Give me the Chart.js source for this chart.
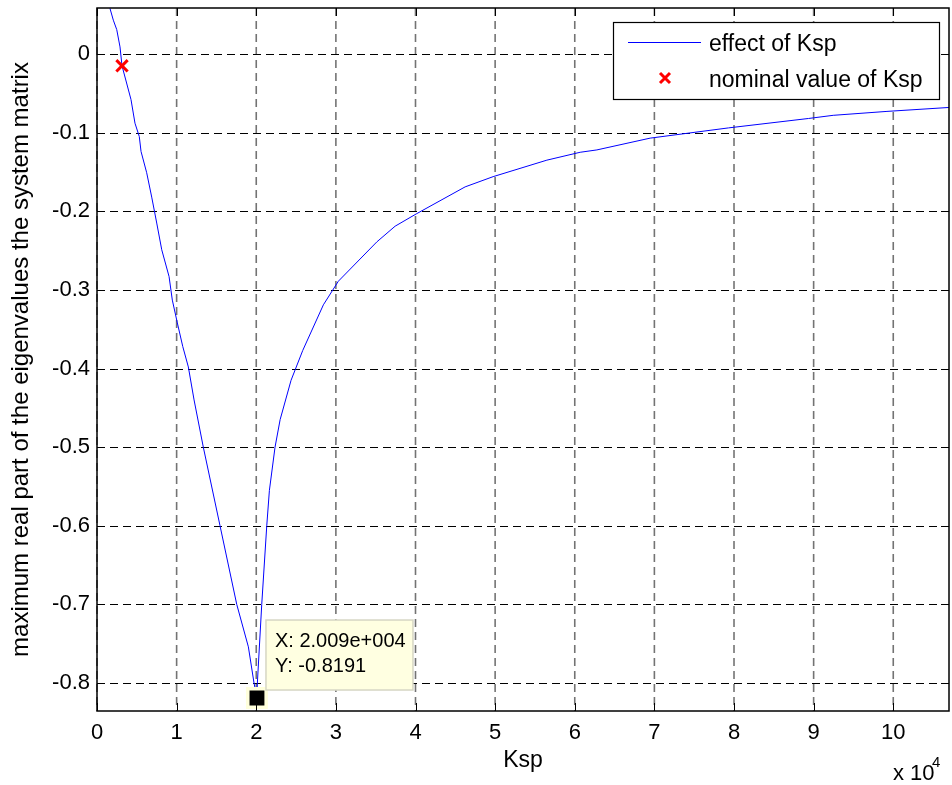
<!DOCTYPE html>
<html>
<head>
<meta charset="utf-8">
<script src="https://cdn.jsdelivr.net/npm/chart.js@4.4.1/dist/chart.umd.min.js"></script>
<style>
  html, body { margin: 0; padding: 0; background: #fff; }
  #wrap { width: 952px; height: 785px; }
</style>
</head>
<body>
<div id="wrap"><canvas id="chart" width="952" height="785"></canvas></div>
<script>
// Ksp sweep vs. max real part of the system eigenvalues
const kspValues = [1630, 2050, 2480, 2890, 3140, 4270, 4770, 5310, 5530, 6240, 6870, 7500, 8130,
  9050, 9460, 10090, 10770, 11470, 12190, 13350, 15450, 17550, 19010, 19720, 20090, 20140,
  20690, 21320, 21650, 22360, 23000, 24370, 25840, 28430, 30310, 35140, 37440, 40160, 46230,
  49750, 56500, 60680, 62780, 69470, 79310, 89360, 92460, 99210, 107000];
const maxRealPart = [0.058, 0.043, 0.031, 0.009, -0.015, -0.058, -0.088, -0.105, -0.124, -0.151,
  -0.182, -0.215, -0.249, -0.283, -0.313, -0.342, -0.372, -0.398, -0.440, -0.500, -0.600, -0.700,
  -0.754, -0.800, -0.8191, -0.800, -0.700, -0.600, -0.555, -0.500, -0.465, -0.415, -0.377, -0.319,
  -0.289, -0.239, -0.219, -0.203, -0.169, -0.156, -0.135, -0.125, -0.122, -0.107, -0.094, -0.082,
  -0.078, -0.073, -0.068];
const nominalKsp = [3140];
const nominalValue = [-0.015];
const tipKsp = [20090];
const tipValue = [-0.8191];
const xTicks = [0, 10000, 20000, 30000, 40000, 50000, 60000, 70000, 80000, 90000, 100000];
const yTicks = [-0.8, -0.7, -0.6, -0.5, -0.4, -0.3, -0.2, -0.1, 0];

const FONT = '"Liberation Sans", Arial, Helvetica, sans-serif';

const zip = (xs, ys) => xs.map((v, i) => ({ x: v, y: ys[i] }));

// no extra room for overflowing labels, the plot box is fixed
const fixBox = (size) => (s) => {
  if (s.isHorizontal()) s.height = size; else s.width = size;
  s.paddingTop = s.paddingBottom = s.paddingLeft = s.paddingRight = 0;
};

const matlabAxes = {
  id: 'matlabAxes',
  beforeDatasetsDraw(chart) {
    const { ctx, chartArea: a, scales: { x, y } } = chart;
    ctx.save();
    ctx.setLineDash([8, 5]);
    ctx.lineWidth = 1;
    ctx.strokeStyle = '#000';
    yTicks.forEach((v) => {
      const py = Math.round(y.getPixelForValue(v)) + 0.5;
      ctx.beginPath(); ctx.moveTo(a.left, py); ctx.lineTo(a.right, py); ctx.stroke();
    });
    ctx.strokeStyle = 'rgba(0,0,0,0.55)';
    ctx.lineWidth = 1.6;
    xTicks.forEach((v) => {
      const px = x.getPixelForValue(v);
      ctx.beginPath(); ctx.moveTo(px, a.top); ctx.lineTo(px, a.bottom); ctx.stroke();
    });
    ctx.restore();
  },
  afterDatasetsDraw(chart) {
    const { ctx, chartArea: a, scales: { x, y } } = chart;
    ctx.save();
    // box + inward ticks
    ctx.strokeStyle = '#000';
    ctx.lineWidth = 1.5;
    ctx.strokeRect(a.left, a.top, a.right - a.left, a.bottom - a.top);
    ctx.lineWidth = 1;
    const tl = 8;
    ctx.beginPath();
    xTicks.forEach((v) => {
      const px = Math.round(x.getPixelForValue(v)) + 0.5;
      ctx.moveTo(px, a.bottom); ctx.lineTo(px, a.bottom - tl);
      ctx.moveTo(px, a.top); ctx.lineTo(px, a.top + tl);
    });
    yTicks.forEach((v) => {
      const py = Math.round(y.getPixelForValue(v)) + 0.5;
      ctx.moveTo(a.left, py); ctx.lineTo(a.left + tl, py);
      ctx.moveTo(a.right, py); ctx.lineTo(a.right - tl, py);
    });
    ctx.stroke();

    // data tip
    const px = x.getPixelForValue(tipKsp[0]);
    const py = y.getPixelForValue(tipValue[0]);
    ctx.fillStyle = '#ffffe1';
    ctx.strokeStyle = '#d6d6c4';
    ctx.lineWidth = 1.5;
    ctx.fillRect(px + 9, py - 78, 147, 70);
    ctx.strokeRect(px + 9, py - 78, 147, 70);
    ctx.fillStyle = '#000';
    ctx.font = '20px ' + FONT;
    ctx.textAlign = 'left';
    ctx.textBaseline = 'alphabetic';
    ctx.fillText('X: 2.009e+004', px + 18, py - 51);
    ctx.fillText('Y: -0.8191', px + 18, py - 26);

    // legend
    const lx = 613, ly = 22, lw = 326, lh = 77;
    ctx.fillStyle = '#fff';
    ctx.fillRect(lx, ly, lw, lh);
    ctx.strokeStyle = '#000';
    ctx.lineWidth = 1.2;
    ctx.strokeRect(lx + 0.5, ly + 0.5, lw, lh);
    ctx.strokeStyle = '#0000ff';
    ctx.lineWidth = 1;
    ctx.beginPath(); ctx.moveTo(628, 42.5); ctx.lineTo(701, 42.5); ctx.stroke();
    ctx.strokeStyle = '#ff0000';
    ctx.lineWidth = 3;
    ctx.beginPath();
    ctx.moveTo(660, 73); ctx.lineTo(670, 83);
    ctx.moveTo(670, 73); ctx.lineTo(660, 83);
    ctx.stroke();
    ctx.fillStyle = '#000';
    ctx.font = '23px ' + FONT;
    ctx.fillText('effect of Ksp', 709, 51);
    ctx.fillText('nominal value of Ksp', 709, 87);

    // axis exponent
    ctx.font = '22px ' + FONT;
    ctx.fillText('x 10', 893, 780);
    ctx.font = '15px ' + FONT;
    ctx.fillText('4', 932, 767);
    ctx.restore();
  }
};

new Chart(document.getElementById('chart'), {
  type: 'scatter',
  data: {
    datasets: [
      {
        label: 'effect of Ksp',
        data: zip(kspValues, maxRealPart),
        showLine: true,
        borderColor: '#0000ff',
        borderWidth: 1,
        pointRadius: 0,
        tension: 0,
        order: 3,
      },
      {
        label: 'nominal value of Ksp',
        data: zip(nominalKsp, nominalValue),
        pointStyle: 'crossRot',
        pointRadius: 8,
        borderColor: '#ff0000',
        borderWidth: 3,
        order: 2,
      },
      {
        label: 'data tip',
        data: zip(tipKsp, tipValue),
        pointStyle: 'rect',
        pointRadius: 13,
        backgroundColor: '#000',
        borderColor: '#ffffdc',
        borderWidth: 3.5,
        order: 1,
      },
    ],
  },
  options: {
    responsive: false,
    animation: false,
    events: [],
    layout: { autoPadding: false, padding: { top: 8, right: 3, left: 0, bottom: 0 } },
    plugins: { legend: { display: false }, tooltip: { enabled: false } },
    scales: {
      x: {
        type: 'linear',
        min: 0,
        max: 107000,
        afterBuildTicks: (s) => { s.ticks = xTicks.map((v) => ({ value: v })); },
        afterFit: fixBox(74),
        ticks: {
          callback: (v) => String(v / 10000),
          font: { family: FONT, size: 22 },
          color: '#000',
          padding: 9,
          maxRotation: 0,
          autoSkip: false,
        },
        grid: { display: false, drawTicks: false },
        border: { display: false },
        title: {
          display: true,
          text: 'Ksp',
          font: { family: FONT, size: 23 },
          color: '#000',
          padding: { top: 0, bottom: 11 },
        },
      },
      y: {
        type: 'linear',
        min: -0.8356,
        max: 0.0585,
        afterBuildTicks: (s) => { s.ticks = yTicks.map((v) => ({ value: v })); },
        afterFit: fixBox(97),
        ticks: {
          callback: (v) => (Math.abs(v) < 1e-9 ? '0' : v.toFixed(1)),
          font: { family: FONT, size: 22 },
          color: '#000',
          padding: 7,
          autoSkip: false,
        },
        grid: { display: false, drawTicks: false },
        border: { display: false },
        title: {
          display: true,
          text: 'maximum real part of the eigenvalues the system matrix',
          font: { family: FONT, size: 24 },
          color: '#000',
          padding: { top: 7, bottom: 0 },
        },
      },
    },
  },
  plugins: [matlabAxes],
});
</script>
</body>
</html>
